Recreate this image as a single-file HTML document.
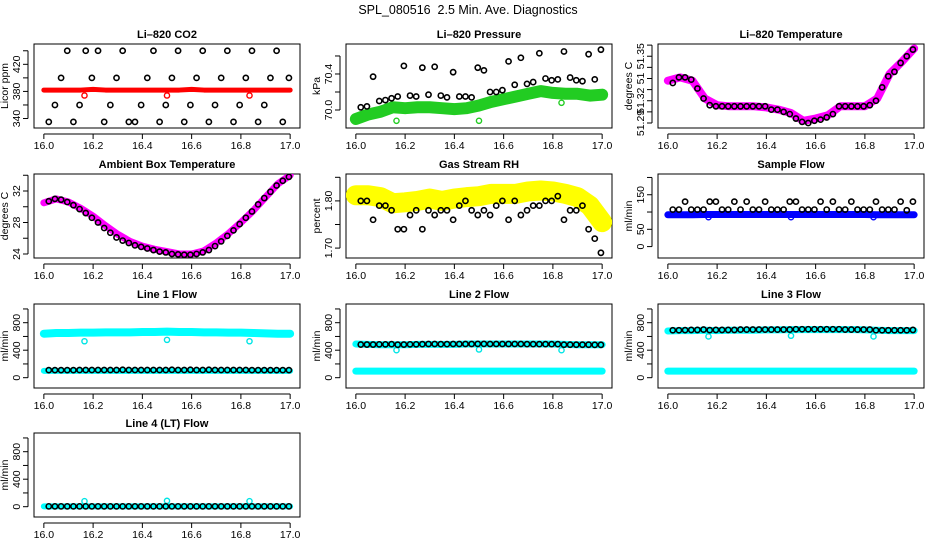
<!DOCTYPE html>
<html><head><meta charset="utf-8"><style>
html,body{margin:0;padding:0;background:#fff}
svg{display:block;font-family:"Liberation Sans",sans-serif}
</style></head><body>
<svg id="c" width="936" height="540" viewBox="0 0 936 540">
<text x="468" y="14" text-anchor="middle" font-size="12.5" style="white-space:pre">SPL_080516  2.5 Min. Ave. Diagnostics</text>
</svg>
<script>
// shared time axes
const T = [16.020,16.045,16.070,16.095,16.120,16.145,16.170,16.195,16.220,16.245,16.270,16.295,16.320,16.345,16.370,16.395,16.420,16.445,16.470,16.495,16.520,16.545,16.570,16.595,16.620,16.645,16.670,16.695,16.720,16.745,16.770,16.795,16.820,16.845,16.870,16.895,16.920,16.945,16.970,16.995];
const D = [16.00,16.05,16.10,16.15,16.20,16.25,16.30,16.35,16.40,16.45,16.50,16.55,16.60,16.65,16.70,16.75,16.80,16.85,16.90,16.95,17.00];
const OUT_T = [16.165,16.50,16.835];
const xTicks = [16.0,16.2,16.4,16.6,16.8,17.0];
const xTickLabels = ["16.0","16.2","16.4","16.6","16.8","17.0"];

// CO2
const co2Band = [382,382,382,382,383,382,382,382,382,382,382,382,383,382,382,382,382,382,382,382,382];
const co2Black = [335,360,400,440,335,360,440,400,440,335,360,400,440,335,335,360,400,440,335,360,400,440,335,360,400,440,335,360,400,440,335,360,400,440,335,360,400,440,335,400];
const co2Out = [374,374,374];
// Pressure
const presBand = [69.90,69.95,69.98,70.03,70.02,70.03,70.03,70.02,70.01,70.02,70.05,70.09,70.12,70.15,70.18,70.21,70.19,70.18,70.18,70.16,70.17];
const presBlack = [70.03,70.04,70.37,70.10,70.11,70.13,70.15,70.49,70.16,70.15,70.47,70.17,70.48,70.16,70.14,70.42,70.15,70.15,70.14,70.47,70.44,70.20,70.20,70.22,70.54,70.28,70.58,70.29,70.31,70.63,70.35,70.33,70.34,70.65,70.36,70.33,70.32,70.62,70.34,70.67];
const presOut = [69.88,69.88,70.08];
// Li-820 temperature
const ltBand = [51.328,51.331,51.328,51.312,51.306,51.305,51.305,51.305,51.304,51.302,51.299,51.292,51.294,51.297,51.305,51.305,51.305,51.312,51.334,51.345,51.357];
const ltBlack = [51.326,51.331,51.331,51.329,51.321,51.312,51.306,51.305,51.305,51.305,51.305,51.305,51.305,51.305,51.305,51.305,51.302,51.302,51.300,51.298,51.294,51.291,51.290,51.292,51.293,51.295,51.298,51.305,51.305,51.305,51.305,51.305,51.306,51.310,51.322,51.332,51.336,51.344,51.350,51.356];
// Ambient box temperature
const abBand = [30.5,31.0,30.6,29.8,28.8,27.6,26.5,25.6,25.0,24.6,24.3,24.0,24.0,24.4,25.4,26.6,28.0,29.5,31.2,32.9,34.0];
const abBlack = [30.7,31.0,30.9,30.6,30.2,29.7,29.2,28.6,28.0,27.3,26.7,26.1,25.7,25.4,25.1,24.9,24.7,24.5,24.3,24.2,24.0,23.95,23.9,23.9,24.0,24.2,24.5,25.0,25.6,26.3,27.0,27.8,28.6,29.4,30.3,31.1,31.9,32.7,33.3,33.8];
// Gas stream RH
const rhBand = [1.812,1.812,1.808,1.795,1.797,1.800,1.805,1.800,1.805,1.808,1.810,1.815,1.815,1.815,1.820,1.822,1.820,1.815,1.808,1.790,1.755];
const rhBlack = [1.80,1.80,1.76,1.79,1.79,1.78,1.74,1.74,1.77,1.78,1.74,1.78,1.77,1.78,1.78,1.76,1.79,1.80,1.78,1.77,1.78,1.77,1.79,1.80,1.76,1.80,1.77,1.78,1.79,1.79,1.80,1.80,1.81,1.76,1.78,1.78,1.79,1.74,1.72,1.69];
// Sample flow
const sfBand = [92,92,92,93,93,93,93,93,93,93,93,93,93,93,93,93,93,92,92,92,92];
const sfBlack = [107,107,130,107,107,107,130,130,107,107,130,107,130,107,107,130,107,107,107,130,130,107,107,107,130,107,130,107,107,130,107,107,107,130,107,107,107,130,105,130];
const sfOut = [85,85,85];
// Line flows
const l1Upper = [640,650,650,655,655,660,660,660,665,665,670,665,665,660,660,655,655,650,645,640,640];
const l1Lower = [100,100,100,100,100,100,100,100,100,100,100,100,100,100,100,100,100,100,100,100,100];
const l1Black = [110,110,110,110,110,112,112,112,112,112,112,112,115,112,112,112,112,112,112,112,115,112,112,115,112,112,115,112,112,112,112,112,112,110,110,110,110,110,110,110];
const l1Out = [530,550,530];
const l2Upper = [490,485,480,480,480,485,485,485,485,490,490,490,490,490,490,490,490,485,480,480,480];
const l2Lower = [95,95,95,95,95,95,95,95,95,95,95,95,95,95,95,95,95,95,95,95,95];
const l2Black = [482,482,482,485,485,488,480,482,485,485,488,490,490,488,488,490,490,490,490,492,492,490,490,490,490,490,490,488,488,488,488,488,488,480,480,480,480,480,478,478];
const l2Out = [400,410,400];
const l3Upper = [680,685,685,690,685,690,690,690,695,695,700,700,700,700,700,700,695,690,685,685,685];
const l3Lower = [95,95,95,95,95,95,95,95,95,95,95,95,95,95,95,95,95,95,95,95,95];
const l3Black = [690,690,692,695,695,700,692,695,695,695,695,700,700,700,700,700,700,700,700,700,705,705,705,705,705,705,705,705,700,700,700,700,700,690,690,690,690,690,690,695];
const l3Out = [600,610,600];
const l4Band = [5,5,5,5,5,5,5,5,5,5,5,5,5,5,5,5,5,5,5,5,5];
const l4Black = [5,5,5,5,5,5,5,5,5,5,5,5,5,5,5,5,5,5,5,5,5,5,5,5,5,5,5,5,5,5,5,5,5,5,5,5,5,5,5,5];
const l4Out = [80,85,80];

const flowTicks = [0,200,400,600,800,1000];
const flowLabels = ["0","","400","","800",""];

const NS = "http://www.w3.org/2000/svg";
const svg = document.getElementById('c');
function mk(tag, attrs, parent){const e=document.createElementNS(NS,tag);for(const k in attrs)e.setAttribute(k,attrs[k]);(parent||svg).appendChild(e);return e;}

function panel(p){
  const g = mk('g',{});
  
  
  const W=266,H=84,x0=p.x,y0=p.y;
  const sx = v => x0 + (v-15.96)/1.08*W;
  const sy = v => y0 + H - (v-p.ymin)/(p.ymax-p.ymin)*H;
  const box = mk('rect',{x:x0,y:y0,width:W,height:H,fill:'none',stroke:'#000','stroke-width':1},g);
  
  
  const t = mk('text',{x:x0+W/2,y:y0-6,'text-anchor':'middle','font-size':11,'font-weight':'bold'},g);
  t.textContent = p.title;
  
  
  const xa = mk('g',{},g);
  
  
  mk('line',{x1:sx(16),x2:sx(17),y1:y0+H+6,y2:y0+H+6,stroke:'#000'},xa);
  xTicks.forEach((v,i)=>{
    mk('line',{x1:sx(v),x2:sx(v),y1:y0+H+6,y2:y0+H+11,stroke:'#000'},xa);
    const tl = mk('text',{x:sx(v),y:y0+H+21,'text-anchor':'middle','font-size':10.5},xa);
    tl.textContent = xTickLabels[i];
    
    
  });
  const ya = mk('g',{},g);
  
  
  mk('line',{x1:x0-6,x2:x0-6,y1:sy(p.ticks[0]),y2:sy(p.ticks[p.ticks.length-1]),stroke:'#000'},ya);
  p.ticks.forEach((v,i)=>{
    mk('line',{x1:x0-11,x2:x0-6,y1:sy(v),y2:sy(v),stroke:'#000'},ya);
    if(p.labels[i]){
      const yy=sy(v);
      const tl = mk('text',{x:x0-14,y:yy,'text-anchor':'middle','font-size':10.5,transform:`rotate(-90 ${x0-14} ${yy})`},ya);
      tl.textContent = p.labels[i];
      
      
    }
  });
  const yl = mk('text',{x:x0-26,y:y0+H/2,'text-anchor':'middle','font-size':10.5,transform:`rotate(-90 ${x0-26} ${y0+H/2})`},g);
  yl.textContent = p.ylab;
  
  
  const clip = 'clip-'+p.id;
  const cp = mk('clipPath',{id:clip},g); mk('rect',{x:x0,y:y0,width:W,height:H},cp);
  const data = mk('g',{'clip-path':`url(#${clip})`},g);
  (p.bands||[]).forEach(b=>{
    const pts = b.vals.map((v,i)=>sx(D[i])+','+sy(v)).join(' ');
    const pl = mk('polyline',{points:pts,fill:'none',stroke:b.color,'stroke-width':b.w,'stroke-linejoin':'round','stroke-linecap':'round'},data);
    
    
  });
  (p.outliers||[]).forEach(o=>{
    o.vals.forEach((v,i)=>{
      const c = mk('circle',{cx:sx(OUT_T[i]),cy:sy(v),r:2.6,fill:'none',stroke:o.color,'stroke-width':1.4},data);
      
      
    });
  });
  if(p.black){
    p.black.forEach((v,i)=>{
      const c = mk('circle',{cx:sx(T[i]),cy:sy(v),r:2.6,fill:'none',stroke:'#000','stroke-width':1.6},data);
      
      
    });
  }
}

const C1=34,C2=346,C3=658, R1=44,R2=174,R3=304,R4=433;
const fmin=-150, fmax=1072;
panel({id:'co2',x:C1,y:R1,title:'Li\u2013820 CO2',ylab:'Licor ppm',ymin:326,ymax:450,ticks:[340,360,380,400,420,440],labels:['340','','380','','420',''],
  bands:[{vals:co2Band,color:'#ff0000',w:5}],outliers:[{vals:co2Out,color:'#ff0000'}],black:co2Black});
panel({id:'pressure',x:C2,y:R1,title:'Li\u2013820 Pressure',ylab:'kPa',ymin:69.8,ymax:70.733,ticks:[70.0,70.2,70.4,70.6],labels:['70.0','','70.4',''],
  bands:[{vals:presBand,color:'#22cc22',w:12}],outliers:[{vals:presOut,color:'#22cc22'}],black:presBlack});
panel({id:'li820-temp',x:C3,y:R1,title:'Li\u2013820 Temperature',ylab:'degrees C',ymin:51.2855,ymax:51.361,ticks:[51.29,51.30,51.31,51.32,51.33,51.34,51.35,51.36],labels:['51.29','','51.32','','51','','51.35',''],
  bands:[{vals:ltBand,color:'#ff00ff',w:8}],black:ltBlack});
panel({id:'ambient-temp',x:C1,y:R2,title:'Ambient Box Temperature',ylab:'degrees C',ymin:23.49,ymax:34.16,ticks:[24,26,28,30,32,34],labels:['24','','28','','32',''],
  bands:[{vals:abBand,color:'#ff00ff',w:7}],black:abBlack});
panel({id:'gas-rh',x:C2,y:R2,title:'Gas Stream RH',ylab:'percent',ymin:1.679,ymax:1.857,ticks:[1.70,1.75,1.80,1.85],labels:['1.70','','1.80',''],
  bands:[{vals:rhBand,color:'#ffff00',w:20}],black:rhBlack});
panel({id:'sample-flow',x:C3,y:R2,title:'Sample Flow',ylab:'ml/min',ymin:-33,ymax:210,ticks:[0,50,100,150,200],labels:['0','50','','150',''],
  bands:[{vals:sfBand,color:'#0000ff',w:7}],outliers:[{vals:sfOut,color:'#0000ff'}],black:sfBlack});
panel({id:'line1-flow',x:C1,y:R3,title:'Line 1 Flow',ylab:'ml/min',ymin:fmin,ymax:fmax,ticks:flowTicks,labels:flowLabels,
  bands:[{vals:l1Upper,color:'#00ffff',w:8},{vals:l1Lower,color:'#00ffff',w:6}],outliers:[{vals:l1Out,color:'#00e5e5'}],black:l1Black});
panel({id:'line2-flow',x:C2,y:R3,title:'Line 2 Flow',ylab:'ml/min',ymin:fmin,ymax:fmax,ticks:flowTicks,labels:flowLabels,
  bands:[{vals:l2Upper,color:'#00ffff',w:7},{vals:l2Lower,color:'#00ffff',w:7}],outliers:[{vals:l2Out,color:'#00e5e5'}],black:l2Black});
panel({id:'line3-flow',x:C3,y:R3,title:'Line 3 Flow',ylab:'ml/min',ymin:fmin,ymax:fmax,ticks:flowTicks,labels:flowLabels,
  bands:[{vals:l3Upper,color:'#00ffff',w:7},{vals:l3Lower,color:'#00ffff',w:7}],outliers:[{vals:l3Out,color:'#00e5e5'}],black:l3Black});
panel({id:'line4-flow',x:C1,y:R4,title:'Line 4 (LT) Flow',ylab:'ml/min',ymin:fmin,ymax:fmax,ticks:flowTicks,labels:flowLabels,
  bands:[{vals:l4Band,color:'#00ffff',w:6}],outliers:[{vals:l4Out,color:'#00e5e5'}],black:l4Black});
</script>
</body></html>
